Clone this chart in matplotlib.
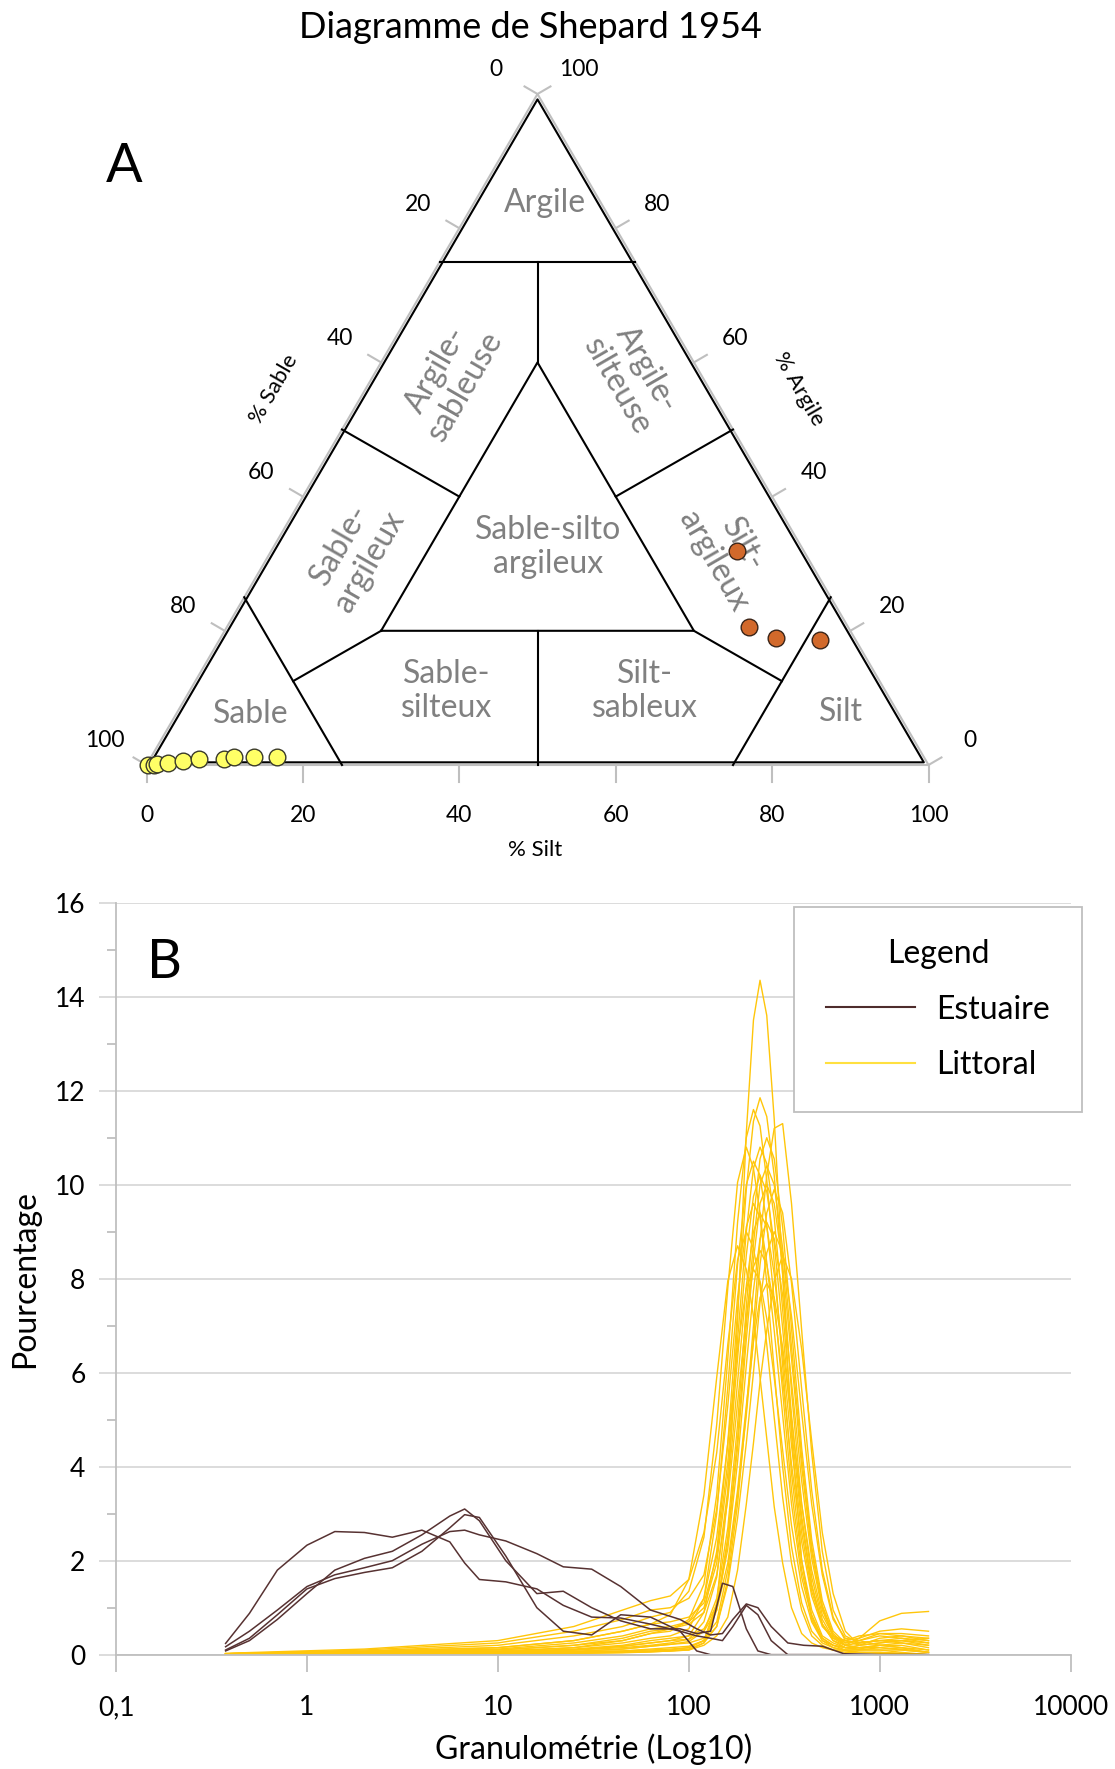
import numpy as np
import matplotlib
matplotlib.use("Agg")
import matplotlib.pyplot as plt
from matplotlib.lines import Line2D
from matplotlib.ticker import FixedLocator, NullLocator, MultipleLocator

plt.rcParams["font.family"] = ["Lato", "DejaVu Sans"]

# ---------------- A : Shepard ternary (% silt, % clay ; sand = rest) ----------------
EST_SILT = [59.6, 66.8, 71.0, 76.8]
EST_CLAY = [31.9, 20.6, 19.0, 18.7]
LIT_SILT = [0.2, 0.9, 1.3, 2.6, 4.3, 6.2, 9.5, 10.6, 13.2, 16.1]
LIT_CLAY = [0.0, 0.0, 0.15, 0.35, 0.65, 0.95, 0.85, 1.2, 1.15, 1.2]
TERN_TICKS = [0, 20, 40, 60, 80, 100]

# class boundaries of Shepard (1954), as (silt, clay) vertices
BOUNDARIES = [
    [(0, 75), (25, 75)],
    [(0, 25), (25, 0)],
    [(75, 25), (75, 0)],
    [(20, 20), (60, 20), (20, 60), (20, 20)],
    [(12.5, 75), (20, 60)],
    [(40, 20), (50, 0)],
    [(0, 50), (20, 40)],
    [(50, 50), (40, 40)],
    [(20, 20), (12.5, 12.5)],
    [(60, 20), (75, 12.5)],
]
FRAME = [(0.4, 0.4), (99.2, 0.4), (0.4, 99.2), (0.4, 0.4)]

# class names with label position (px) and rotation
CLASSES = [
    ("Argile", 545, 203, 0),
    ("Argile-\nsableuse", 451, 378, 60),
    ("Argile-\nsilteuse", 632, 378, -60),
    ("Sable-silto\nargileux", 548, 547, 0),
    ("Sable-\nargileux", 355, 553, 60),
    ("Silt-\nargileux", 728, 553, -60),
    ("Sable-\nsilteux", 447, 691, 0),
    ("Silt-\nsableux", 645, 691, 0),
    ("Sable", 251, 714, 0),
    ("Silt", 841, 712, 0),
]

# ---------------- B : grain size curves ----------------
SIZES_EST = [0.375, 0.5, 0.7, 1.0, 1.4, 2.0, 2.8, 4.0, 5.6, 6.7, 8.0, 11, 16, 22, 31, 44, 63,
             90, 110, 130, 150, 170, 200, 230, 270, 330, 400, 500, 650, 1000, 1800]
EST_A = [0.24, 0.88, 1.8, 2.33, 2.62, 2.6, 2.5, 2.65, 2.4, 1.95, 1.6, 1.55, 1.4, 1.05, 0.8, 0.78,
         0.65, 0.5, 0.4, 0.35, 0.3, 0.6, 1.05, 0.85, 0.3, 0.0, 0.0, 0.0, 0.0, 0.0, 0.0]
EST_B = [0.17, 0.5, 0.95, 1.45, 1.7, 1.85, 2.0, 2.35, 2.62, 2.65, 2.55, 2.42, 2.15, 1.87, 1.82, 1.45,
         0.95, 0.75, 0.55, 0.42, 0.45, 0.75, 1.08, 1.0, 0.6, 0.25, 0.2, 0.18, 0.02, 0.0, 0.0]
EST_C = [0.08, 0.3, 0.75, 1.3, 1.8, 2.05, 2.2, 2.55, 2.95, 3.1, 2.85, 2.0, 1.3, 1.35, 1.0, 0.72,
         0.55, 0.55, 0.45, 0.5, 1.52, 1.45, 0.55, 0.08, 0.0, 0.0, 0.0, 0.0, 0.0, 0.0, 0.0]
EST_D = [0.1, 0.35, 0.85, 1.4, 1.62, 1.75, 1.85, 2.2, 2.7, 2.98, 2.92, 2.1, 1.0, 0.5, 0.42, 0.85,
         0.8, 0.5, 0.08, 0.0, 0.0, 0.0, 0.0, 0.0, 0.0, 0.0, 0.0, 0.0, 0.0, 0.0, 0.0]
ESTUAIRE = [EST_A, EST_B, EST_C, EST_D]

SIZES_LIT = [0.375, 2, 10, 25, 45, 63, 80, 100, 120, 140, 160, 180, 200, 218, 236, 256, 280, 310,
             345, 390, 440, 500, 570, 660, 780, 1000, 1300, 1800]
LITTORAL = [
    [0.01, 0.04, 0.05, 0.06, 0.08, 0.1, 0.12, 0.15, 0.3, 1.1, 3.4, 7.1, 11.1, 13.5, 14.35, 13.6, 11.4, 8.1, 4.7, 2.0, 0.75, 0.3, 0.15, 0.08, 0.05, 0.03, 0.02, 0.0],
    [0.01, 0.05, 0.05, 0.1, 0.18, 0.25, 0.3, 0.4, 0.9, 2.2, 4.5, 7.3, 9.9, 11.35, 11.85, 11.45, 10.2, 8.1, 5.6, 3.2, 1.65, 0.75, 0.35, 0.2, 0.15, 0.15, 0.12, 0.05],
    [0.02, 0.06, 0.1, 0.2, 0.3, 0.45, 0.5, 0.75, 1.5, 3.4, 6.3, 9.2, 11.0, 11.6, 11.25, 10.1, 8.35, 6.15, 3.85, 2.0, 0.95, 0.4, 0.25, 0.15, 0.12, 0.2, 0.25, 0.2],
    [0.0, 0.02, 0.03, 0.04, 0.05, 0.06, 0.08, 0.12, 0.25, 0.6, 1.6, 3.2, 5.2, 7.0, 8.8, 10.2, 11.2, 11.3, 9.6, 6.9, 4.3, 2.2, 0.95, 0.4, 0.25, 0.3, 0.35, 0.3],
    [0.01, 0.03, 0.04, 0.07, 0.12, 0.18, 0.22, 0.28, 0.5, 1.2, 2.7, 4.9, 7.4, 9.25, 10.55, 11.0, 10.55, 9.1, 6.95, 4.4, 2.45, 1.15, 0.5, 0.25, 0.3, 0.45, 0.45, 0.4],
    [0.02, 0.07, 0.15, 0.3, 0.5, 0.65, 0.7, 0.8, 1.1, 2.1, 4.1, 6.7, 9.0, 10.35, 10.8, 10.45, 9.3, 7.35, 5.1, 2.95, 1.5, 0.65, 0.3, 0.15, 0.1, 0.1, 0.1, 0.05],
    [0.02, 0.08, 0.2, 0.4, 0.6, 0.8, 0.9, 1.35, 2.5, 4.9, 7.8, 10.05, 10.8, 10.35, 9.4, 7.9, 6.05, 4.0, 2.3, 1.1, 0.5, 0.25, 0.15, 0.1, 0.1, 0.1, 0.05, 0.0],
    [0.01, 0.05, 0.08, 0.15, 0.25, 0.35, 0.4, 0.55, 1.2, 3.0, 5.7, 8.3, 10.0, 10.5, 10.2, 9.15, 7.55, 5.6, 3.5, 1.8, 0.85, 0.35, 0.2, 0.15, 0.2, 0.35, 0.4, 0.3],
    [0.01, 0.03, 0.03, 0.05, 0.08, 0.12, 0.15, 0.18, 0.3, 1.0, 2.5, 4.6, 7.0, 8.75, 10.0, 10.4, 10.0, 8.65, 6.55, 4.2, 2.3, 1.05, 0.45, 0.2, 0.35, 0.72, 0.88, 0.92],
    [0.02, 0.06, 0.12, 0.25, 0.4, 0.55, 0.6, 0.7, 1.0, 1.95, 3.85, 6.3, 8.5, 9.75, 10.2, 9.85, 8.75, 6.95, 4.8, 2.8, 1.45, 0.65, 0.3, 0.2, 0.15, 0.2, 0.2, 0.1],
    [0.0, 0.02, 0.02, 0.03, 0.04, 0.06, 0.08, 0.1, 0.25, 0.95, 2.4, 4.4, 6.7, 8.4, 9.6, 10.0, 9.6, 8.3, 6.3, 4.0, 2.2, 1.0, 0.4, 0.2, 0.25, 0.3, 0.25, 0.15],
    [0.01, 0.03, 0.04, 0.07, 0.12, 0.18, 0.22, 0.25, 0.35, 0.7, 1.8, 3.4, 5.1, 6.7, 8.3, 9.4, 9.9, 9.4, 7.9, 5.65, 3.5, 1.8, 0.8, 0.3, 0.2, 0.25, 0.3, 0.2],
    [0.02, 0.1, 0.25, 0.5, 0.75, 0.95, 1.0, 1.2, 1.7, 3.1, 5.3, 7.6, 9.1, 9.6, 9.3, 8.35, 6.9, 5.1, 3.2, 1.65, 0.8, 0.35, 0.2, 0.1, 0.05, 0.05, 0.03, 0.0],
    [0.01, 0.04, 0.05, 0.1, 0.15, 0.2, 0.25, 0.33, 0.7, 1.65, 3.5, 5.8, 7.85, 9.0, 9.4, 9.1, 8.1, 6.4, 4.45, 2.6, 1.35, 0.65, 0.35, 0.3, 0.35, 0.5, 0.55, 0.5],
    [0.03, 0.12, 0.3, 0.6, 0.95, 1.15, 1.25, 1.6, 2.6, 4.3, 6.6, 8.4, 9.0, 8.65, 7.85, 6.6, 5.05, 3.35, 1.95, 0.95, 0.4, 0.2, 0.1, 0.1, 0.1, 0.15, 0.1, 0.05],
    [0.01, 0.04, 0.06, 0.12, 0.2, 0.3, 0.35, 0.4, 0.55, 1.05, 2.25, 4.1, 6.15, 7.75, 8.85, 9.2, 8.85, 7.65, 5.8, 3.7, 2.05, 0.95, 0.4, 0.25, 0.3, 0.4, 0.35, 0.25],
    [0.0, 0.02, 0.02, 0.04, 0.06, 0.08, 0.1, 0.15, 0.3, 0.6, 1.5, 2.9, 4.5, 6.0, 7.5, 8.55, 9.0, 8.55, 7.2, 5.15, 3.2, 1.7, 0.75, 0.35, 0.3, 0.2, 0.15, 0.1],
    [0.02, 0.07, 0.15, 0.3, 0.5, 0.65, 0.85, 1.6, 3.4, 5.9, 7.95, 8.7, 8.2, 7.2, 5.9, 4.6, 3.15, 1.95, 1.0, 0.45, 0.25, 0.15, 0.1, 0.05, 0.05, 0.05, 0.02, 0.0],
    [0.01, 0.04, 0.06, 0.15, 0.3, 0.45, 0.55, 0.65, 0.9, 1.7, 3.3, 5.35, 7.2, 8.25, 8.6, 8.3, 7.4, 5.85, 4.05, 2.4, 1.25, 0.6, 0.35, 0.3, 0.25, 0.3, 0.3, 0.25],
    [0.0, 0.02, 0.02, 0.03, 0.05, 0.07, 0.08, 0.1, 0.2, 0.4, 0.8, 1.8, 3.2, 4.5, 5.8, 6.9, 7.95, 8.5, 8.0, 6.5, 4.55, 2.6, 1.3, 0.5, 0.2, 0.25, 0.3, 0.35],
    [0.02, 0.06, 0.1, 0.2, 0.35, 0.5, 0.55, 0.7, 1.2, 2.5, 4.5, 6.5, 7.8, 8.2, 7.95, 7.15, 5.9, 4.35, 2.75, 1.45, 0.7, 0.3, 0.2, 0.15, 0.15, 0.2, 0.15, 0.05],
    [0.01, 0.04, 0.05, 0.1, 0.18, 0.25, 0.3, 0.33, 0.5, 0.95, 1.95, 3.5, 5.3, 6.65, 7.6, 7.9, 7.6, 6.55, 5.0, 3.2, 1.8, 0.85, 0.4, 0.3, 0.4, 0.45, 0.4, 0.35],
]
X_TICKS = [0.1, 1, 10, 100, 1000, 10000]
X_TICK_LABELS = ["0,1", "1", "10", "100", "1000", "10000"]

BROWN = "#573232"
YELLOW = "#FFC60A"
GREY_AXIS = "#BFBFBF"
GREY_TEXT = "#808080"

# ternary -> pixel position inside the top panel
X0, Y0, TW, TH = 146.5, 765.0, 782.0, 671.0


def tern(silt, clay):
    silt = np.asarray(silt, dtype=float)
    clay = np.asarray(clay, dtype=float)
    return X0 + (silt + clay / 2.0) / 100.0 * TW, Y0 - clay / 100.0 * TH


fig = plt.figure(figsize=(11.15, 17.69), dpi=100)

# ---- panel A
ax_t = fig.add_axes([0, 1 - 880 / 1769, 1, 880 / 1769])
ax_t.set_xlim(0, 1115)
ax_t.set_ylim(880, 0)
ax_t.axis("off")

# grey axes of the triangle
gx, gy = tern([0, 100, 0, 0], [0, 0, 100, 0])
ax_t.plot(gx, gy, color=GREY_AXIS, lw=1.5, zorder=1)

n_left = np.array([-0.864, -0.503])
n_right = np.array([0.864, -0.503])
for t in TERN_TICKS:
    # bottom : % silt
    bx, by = tern(t, 0)
    ax_t.plot([bx, bx], [by, by + 17], color=GREY_AXIS, lw=1.5)
    ax_t.text(bx, by + 50, str(t), ha="center", va="center", fontsize=16.5)
    # left : % sable
    lx, ly = tern(0, 100 - t)
    ax_t.plot([lx, lx + 15 * n_left[0]], [ly, ly + 15 * n_left[1]], color=GREY_AXIS, lw=1.5)
    ax_t.text(lx + 48 * n_left[0], ly + 48 * n_left[1], str(t), ha="center", va="center", fontsize=16.5)
    # right : % argile
    rx, ry = tern(100 - t, t)
    ax_t.plot([rx, rx + 15 * n_right[0]], [ry, ry + 15 * n_right[1]], color=GREY_AXIS, lw=1.5)
    ax_t.text(rx + 48 * n_right[0], ry + 48 * n_right[1], str(t), ha="center", va="center", fontsize=16.5)

# class boundaries
fx, fy = tern([p[0] for p in FRAME], [p[1] for p in FRAME])
ax_t.plot(fx, fy, color="black", lw=1.5, zorder=2)
for seg in BOUNDARIES:
    sx, sy = tern([p[0] for p in seg], [p[1] for p in seg])
    ax_t.plot(sx, sy, color="black", lw=1.5, zorder=2)

for name, x, y, rot in CLASSES:
    ax_t.text(x, y, name, ha="center", va="center", rotation=rot, rotation_mode="anchor",
              fontsize=23, color=GREY_TEXT, linespacing=1.15, multialignment="center")

px, py = tern(LIT_SILT, LIT_CLAY)
ax_t.plot(px, py, "o", ms=12, mfc="#FFFF66", mec="#3A3A2A", mew=1.0, zorder=4)
px, py = tern(EST_SILT, EST_CLAY)
ax_t.plot(px, py, "o", ms=12, mfc="#D2692B", mec="#3A2418", mew=1.0, zorder=4)

ax_t.text(535, 850, "% Silt", ha="center", va="center", fontsize=16)
ax_t.text(274, 389, "% Sable", ha="center", va="center", rotation=60, fontsize=16)
ax_t.text(799, 389, "% Argile", ha="center", va="center", rotation=-60, fontsize=16)
ax_t.text(530, 27, "Diagramme de Shepard 1954", ha="center", va="center", fontsize=26)
ax_t.text(124, 167, "A", ha="center", va="center", fontsize=39)

# ---- panel B
ax_b = fig.add_axes([116 / 1115, 1 - 1654.7 / 1769, 954.7 / 1115, 752 / 1769])
for vals in LITTORAL:
    ax_b.plot(SIZES_LIT, vals, color=YELLOW, lw=1.0)
for vals in ESTUAIRE:
    ax_b.plot(SIZES_EST, vals, color=BROWN, lw=1.1)

ax_b.set_xscale("log")
ax_b.set_xlim(0.1, 10000)
ax_b.set_ylim(0, 16)
ax_b.xaxis.set_major_locator(FixedLocator(X_TICKS))
ax_b.xaxis.set_minor_locator(NullLocator())
ax_b.set_xticklabels(X_TICK_LABELS)
ax_b.yaxis.set_major_locator(MultipleLocator(2))
ax_b.yaxis.set_minor_locator(MultipleLocator(1))
ax_b.yaxis.grid(True, color="#D9D9D9", lw=1.3)
ax_b.set_axisbelow(True)
for side in ("top", "right"):
    ax_b.spines[side].set_visible(False)
for side in ("left", "bottom"):
    ax_b.spines[side].set_color(GREY_AXIS)
    ax_b.spines[side].set_linewidth(1.3)
ax_b.tick_params(axis="y", which="major", length=12, width=1.3, color="#D9D9D9", pad=10, labelsize=19)
ax_b.tick_params(axis="y", which="minor", length=6.3, width=1.3, color=GREY_AXIS)
ax_b.tick_params(axis="x", which="major", length=12, width=1.3, color=GREY_AXIS, pad=17, labelsize=19)

ax_b.set_xlabel("Granulométrie (Log10)", fontsize=23)
ax_b.set_ylabel("Pourcentage", fontsize=23)
ax_b.xaxis.set_label_coords(0.5, -0.105)
ax_b.yaxis.set_label_coords(-0.079, 0.5)

ax_b.text(0.0503, 0.921, "B", transform=ax_b.transAxes, ha="center", va="center", fontsize=39)

handles = [Line2D([], [], color="#4E2C2C", lw=1.5), Line2D([], [], color="#FFE040", lw=1.5)]
leg = ax_b.legend(handles, ["Estuaire", "Littoral"], title="Legend", loc="upper left",
                  bbox_to_anchor=(794 / 1115, 1 - 907 / 1769), bbox_transform=fig.transFigure,
                  fontsize=23, title_fontsize=23, frameon=True, fancybox=False,
                  edgecolor=GREY_AXIS, framealpha=1, borderpad=1.0, handlelength=2.8,
                  handletextpad=0.65, labelspacing=0.8, borderaxespad=0)
leg.get_frame().set_linewidth(1.3)

fig.savefig("out.png", dpi=100)
